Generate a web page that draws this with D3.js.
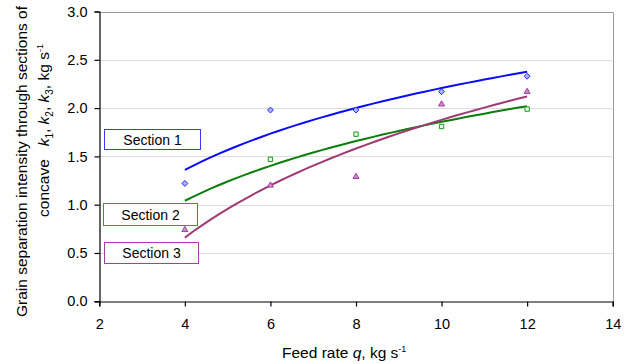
<!DOCTYPE html>
<html>
<head>
<meta charset="utf-8">
<script src="https://cdn.jsdelivr.net/npm/d3@7"></script>
<style>
  html, body { margin: 0; padding: 0; background: #fff; }
  svg { display: block; font-family: "Liberation Sans", Arial, sans-serif; }
</style>
</head>
<body>
<svg id="chart" width="633" height="364"></svg>
<script>
// Feed rate (kg/s) and measured separation intensity for each concave section
const feedRates = [4, 6, 8, 10, 12];
const section1 = [1.22, 1.98, 1.98, 2.17, 2.33];
const section2 = [0.98, 1.47, 1.73, 1.81, 1.99];
const section3 = [0.74, 1.20, 1.29, 2.04, 2.17];

const xTicks = [2, 4, 6, 8, 10, 12, 14];
const yTicks = [0, 0.5, 1.0, 1.5, 2.0, 2.5, 3.0];
const seriesNames = ["Section 1", "Section 2", "Section 3"];

const svg = d3.select("#chart");

const x = d3.scaleLinear().domain([2, 14]).range([99.3, 612.7]);
const y = d3.scaleLinear().domain([0, 3]).range([301.3, 11.5]);

// horizontal gridlines
svg.append("g")
  .selectAll("line")
  .data(yTicks.filter(d => d > 0 && d < 3))
  .join("line")
  .attr("x1", x(2)).attr("x2", x(14))
  .attr("y1", d => Math.round(y(d)) + 0.5).attr("y2", d => Math.round(y(d)) + 0.5)
  .attr("stroke", "#dcdcdc").attr("stroke-width", 1);

// plot area frame (top and right)
svg.append("path")
  .attr("d", `M${x(2)},${Math.round(y(3)) + 0.5}H${Math.round(x(14)) + 0.5}V${y(0)}`)
  .attr("fill", "none").attr("stroke", "#9a9a9a").attr("stroke-width", 1);

// axes
const xAxis = svg.append("g")
  .attr("transform", `translate(0,${Math.round(y(0)) + 0.5})`)
  .call(d3.axisBottom(x).tickValues(xTicks).tickSize(5).tickPadding(12).tickFormat(d3.format("d")));
const yAxis = svg.append("g")
  .attr("transform", `translate(${Math.round(x(2)) + 0.5},0)`)
  .call(d3.axisLeft(y).tickValues(yTicks).tickSize(5).tickPadding(7).tickFormat(d3.format(".1f")));

[xAxis, yAxis].forEach(g => {
  g.select(".domain").attr("stroke", "#000").attr("stroke-width", 1.2);
  g.selectAll(".tick line").attr("stroke", "#000").attr("stroke-width", 1.2);
  g.selectAll(".tick text")
    .attr("fill", "#000")
    .style("font-family", "'Liberation Sans', Arial, sans-serif")
    .style("font-size", "14.5px");
});
xAxis.selectAll(".tick text").attr("dy", "0.71em");

// logarithmic trendlines fitted to each section's measurements
function logFit(xs, ys) {
  const lx = xs.map(Math.log);
  const mx = d3.mean(lx), my = d3.mean(ys);
  const sxy = d3.sum(lx, (v, i) => (v - mx) * (ys[i] - my));
  const sxx = d3.sum(lx, v => (v - mx) * (v - mx));
  const b = sxy / sxx;
  const a = my - b * mx;
  return q => a + b * Math.log(q);
}

const series = [
  { name: seriesNames[0], values: section1, line: "#0a0aff", stroke: "#2828ff", fill: "#a8b4ff", shape: "diamond" },
  { name: seriesNames[1], values: section2, line: "#0b7d0b", stroke: "#1a9a1a", fill: "#e6ffe6", shape: "square" },
  { name: seriesNames[2], values: section3, line: "#a03a72", stroke: "#a03ca0", fill: "#d08ad0", shape: "triangle" }
];

const lineGen = d3.line().x(d => x(d[0])).y(d => y(d[1]));
const qMin = d3.min(feedRates), qMax = d3.max(feedRates);

series.forEach(s => {
  const f = logFit(feedRates, s.values);
  const pts = d3.range(0, 41).map(i => {
    const q = qMin + (qMax - qMin) * i / 40;
    return [q, f(q)];
  });
  svg.append("path")
    .attr("d", lineGen(pts))
    .attr("fill", "none")
    .attr("stroke", s.line)
    .attr("stroke-width", 2);
});

const symbolType = { diamond: d3.symbolDiamond2, square: d3.symbolSquare2, triangle: d3.symbolTriangle2 };
const symbolSize = { diamond: 22, square: 24, triangle: 26 };

series.forEach(s => {
  svg.append("g")
    .selectAll("path")
    .data(s.values.map((v, i) => [feedRates[i], v]))
    .join("path")
    .attr("transform", d => `translate(${x(d[0])},${y(d[1])})`)
    .attr("d", d3.symbol().type(symbolType[s.shape]).size(symbolSize[s.shape]))
    .attr("fill", s.fill)
    .attr("stroke", s.stroke)
    .attr("stroke-width", 1);
});

// series label boxes
const labelBoxes = [
  { x: 104.5, y: 129.5, w: 96, h: 20, color: "#3a3aff" },
  { x: 103.5, y: 203.5, w: 94, h: 22, color: "#3a9a3a" },
  { x: 104.5, y: 242.5, w: 94, h: 21, color: "#a040a8" }
];
labelBoxes.forEach((b, i) => {
  svg.append("rect")
    .attr("x", b.x).attr("y", b.y).attr("width", b.w).attr("height", b.h)
    .attr("fill", "#fff").attr("stroke", b.color).attr("stroke-width", 1);
  svg.append("text")
    .attr("x", b.x + b.w / 2).attr("y", b.y + b.h / 2)
    .attr("text-anchor", "middle").attr("dominant-baseline", "central")
    .style("font-size", "14px").attr("fill", "#000")
    .text(seriesNames[i]);
});

// x axis title
const xt = svg.append("text")
  .attr("x", 282).attr("y", 358)
  .style("font-size", "15.5px").attr("fill", "#000");
xt.append("tspan").text("Feed rate ");
xt.append("tspan").style("font-style", "italic").text("q");
xt.append("tspan").text(", kg s");
xt.append("tspan").attr("dy", "-6").style("font-size", "9px").text("-1");

// y axis title (two lines)
svg.append("text")
  .attr("transform", "translate(26.5,161.5) rotate(-90)")
  .attr("text-anchor", "middle")
  .style("font-size", "15.5px").attr("fill", "#000")
  .text("Grain separation intensity through sections of");

const yt2 = svg.append("text")
  .attr("transform", "translate(48.5,130.5) rotate(-90)")
  .attr("text-anchor", "middle")
  .style("font-size", "15.5px").attr("fill", "#000");
yt2.append("tspan").text("concave\u00a0\u00a0 ");
[["1", ", "], ["2", ", "], ["3", ", "]].forEach(([sub, sep]) => {
  yt2.append("tspan").style("font-style", "italic").text("k");
  yt2.append("tspan").attr("dy", "4").style("font-size", "10px").text(sub);
  yt2.append("tspan").attr("dy", "-4").text(sep);
});
yt2.append("tspan").text("kg s");
yt2.append("tspan").attr("dy", "-6").style("font-size", "9px").text("-1");
</script>
</body>
</html>
